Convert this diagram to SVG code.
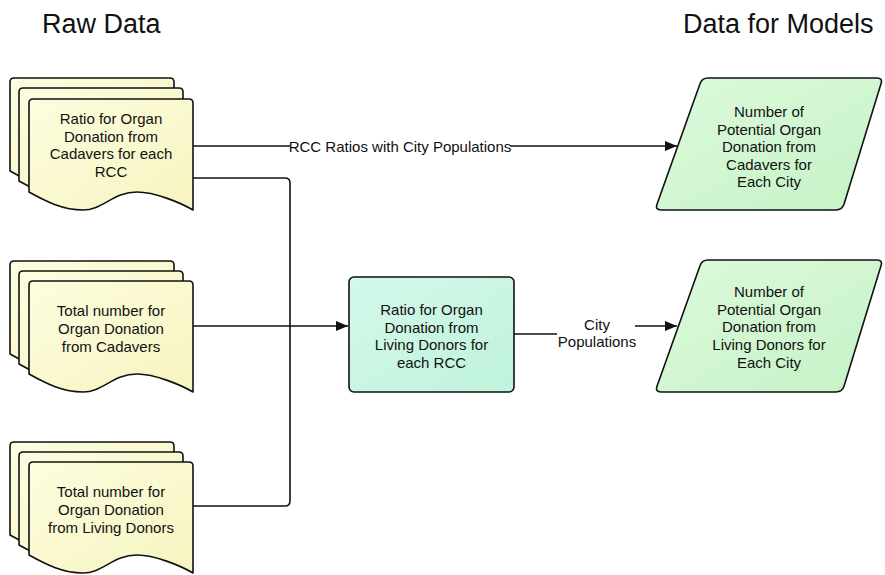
<svg xmlns="http://www.w3.org/2000/svg" xmlns:xlink="http://www.w3.org/1999/xlink" width="885" height="575" viewBox="0 0 885 575">
<style>
  text { font-family: "Liberation Sans", Arial, sans-serif; fill: #111; }
  .t { font-size: 15px; text-anchor: middle; }
  .h { font-size: 27px; }
  .doc { fill: url(#gy); stroke: #111; stroke-width: 1.6; stroke-linejoin: round; }
  .proc { fill: url(#gm); stroke: #111; stroke-width: 1.6; }
  .para { fill: url(#gg); stroke: #111; stroke-width: 1.6; stroke-linejoin: round; }
  .conn { fill: none; stroke: #111; stroke-width: 1.6; }
  .lblbg { fill: #fff; }
</style>
<defs>
  <linearGradient id="gy" x1="0" y1="0" x2="1" y2="1">
    <stop offset="0" stop-color="#fdfde0"/>
    <stop offset="1" stop-color="#f6f4bf"/>
  </linearGradient>
  <linearGradient id="gm" x1="0" y1="0" x2="1" y2="1">
    <stop offset="0" stop-color="#d4f8ea"/>
    <stop offset="1" stop-color="#bff3dc"/>
  </linearGradient>
  <linearGradient id="gg" x1="0" y1="0" x2="1" y2="1">
    <stop offset="0" stop-color="#dcfadc"/>
    <stop offset="1" stop-color="#c6f2c6"/>
  </linearGradient>
  <path id="docshape" d="M4,0 H160 Q164,0 164,4 V111 C152,104 126,93 108,93 C84,93 74,111 54,111 C34,111 18,103 0,93 V4 Q0,0 4,0 Z"/>
  <marker id="arr" viewBox="0 0 12 10" refX="12" refY="5" markerWidth="12" markerHeight="10" markerUnits="userSpaceOnUse" orient="auto">
    <path d="M0,0 L12,5 L0,10 Z" fill="#111"/>
  </marker>
</defs>

<text class="h" x="42" y="33">Raw Data</text>
<text class="h" x="683" y="33">Data for Models</text>

<g id="connectors">
  <path class="conn" d="M193,146 H677" marker-end="url(#arr)"/>
  <rect class="lblbg" x="290" y="137" width="220" height="18"/>
  <text class="t" x="400" y="151.5">RCC Ratios with City Populations</text>

  <path class="conn" d="M193,178 H285 Q290,178 290,183 V501 Q290,506 285,506 H193"/>
  <path class="conn" d="M193,326 H348" marker-end="url(#arr)"/>

  <path class="conn" d="M514,334 H597 V326 H677" marker-end="url(#arr)"/>
  <rect class="lblbg" x="557" y="314" width="78" height="38"/>
  <text class="t" x="597" y="330">City</text>
  <text class="t" x="597" y="347">Populations</text>
</g>

<g id="doc-cadavers-ratio">
  <use xlink:href="#docshape" class="doc" x="10" y="78"/>
  <use xlink:href="#docshape" class="doc" x="19" y="88"/>
  <use xlink:href="#docshape" class="doc" x="29" y="99"/>
  <text class="t" x="111" y="124">Ratio for Organ</text>
  <text class="t" x="111" y="141.5">Donation from</text>
  <text class="t" x="111" y="159">Cadavers for each</text>
  <text class="t" x="111" y="176.5">RCC</text>
</g>

<g id="doc-total-cadavers">
  <use xlink:href="#docshape" class="doc" x="10" y="261"/>
  <use xlink:href="#docshape" class="doc" x="19" y="271"/>
  <use xlink:href="#docshape" class="doc" x="29" y="281"/>
  <text class="t" x="111" y="316">Total number for</text>
  <text class="t" x="111" y="334">Organ Donation</text>
  <text class="t" x="111" y="352">from Cadavers</text>
</g>

<g id="doc-total-living">
  <use xlink:href="#docshape" class="doc" x="10" y="442"/>
  <use xlink:href="#docshape" class="doc" x="19" y="452"/>
  <use xlink:href="#docshape" class="doc" x="29" y="462"/>
  <text class="t" x="111" y="497">Total number for</text>
  <text class="t" x="111" y="515">Organ Donation</text>
  <text class="t" x="111" y="533">from Living Donors</text>
</g>

<g id="proc-living-ratio">
  <rect class="proc" x="349" y="277" width="165" height="115" rx="5"/>
  <text class="t" x="431.5" y="315">Ratio for Organ</text>
  <text class="t" x="431.5" y="332.5">Donation from</text>
  <text class="t" x="431.5" y="350">Living Donors for</text>
  <text class="t" x="431.5" y="367.5">each RCC</text>
</g>

<g id="out-cadavers">
  <path class="para" d="M708,78 H877 Q883,78 881,83.7 L844,204.3 Q842,210 836,210 H661 Q655,210 657,204.3 L700,83.7 Q702,78 708,78 Z"/>
  <text class="t" x="769" y="117">Number of</text>
  <text class="t" x="769" y="134.5">Potential Organ</text>
  <text class="t" x="769" y="152">Donation from</text>
  <text class="t" x="769" y="169.5">Cadavers for</text>
  <text class="t" x="769" y="187">Each City</text>
</g>

<g id="out-living">
  <path class="para" d="M708,260 H877 Q883,260 881,265.7 L844,386.3 Q842,392 836,392 H661 Q655,392 657,386.3 L700,265.7 Q702,260 708,260 Z"/>
  <text class="t" x="769" y="297">Number of</text>
  <text class="t" x="769" y="314.7">Potential Organ</text>
  <text class="t" x="769" y="332.4">Donation from</text>
  <text class="t" x="769" y="350.1">Living Donors for</text>
  <text class="t" x="769" y="367.8">Each City</text>
</g>
</svg>
